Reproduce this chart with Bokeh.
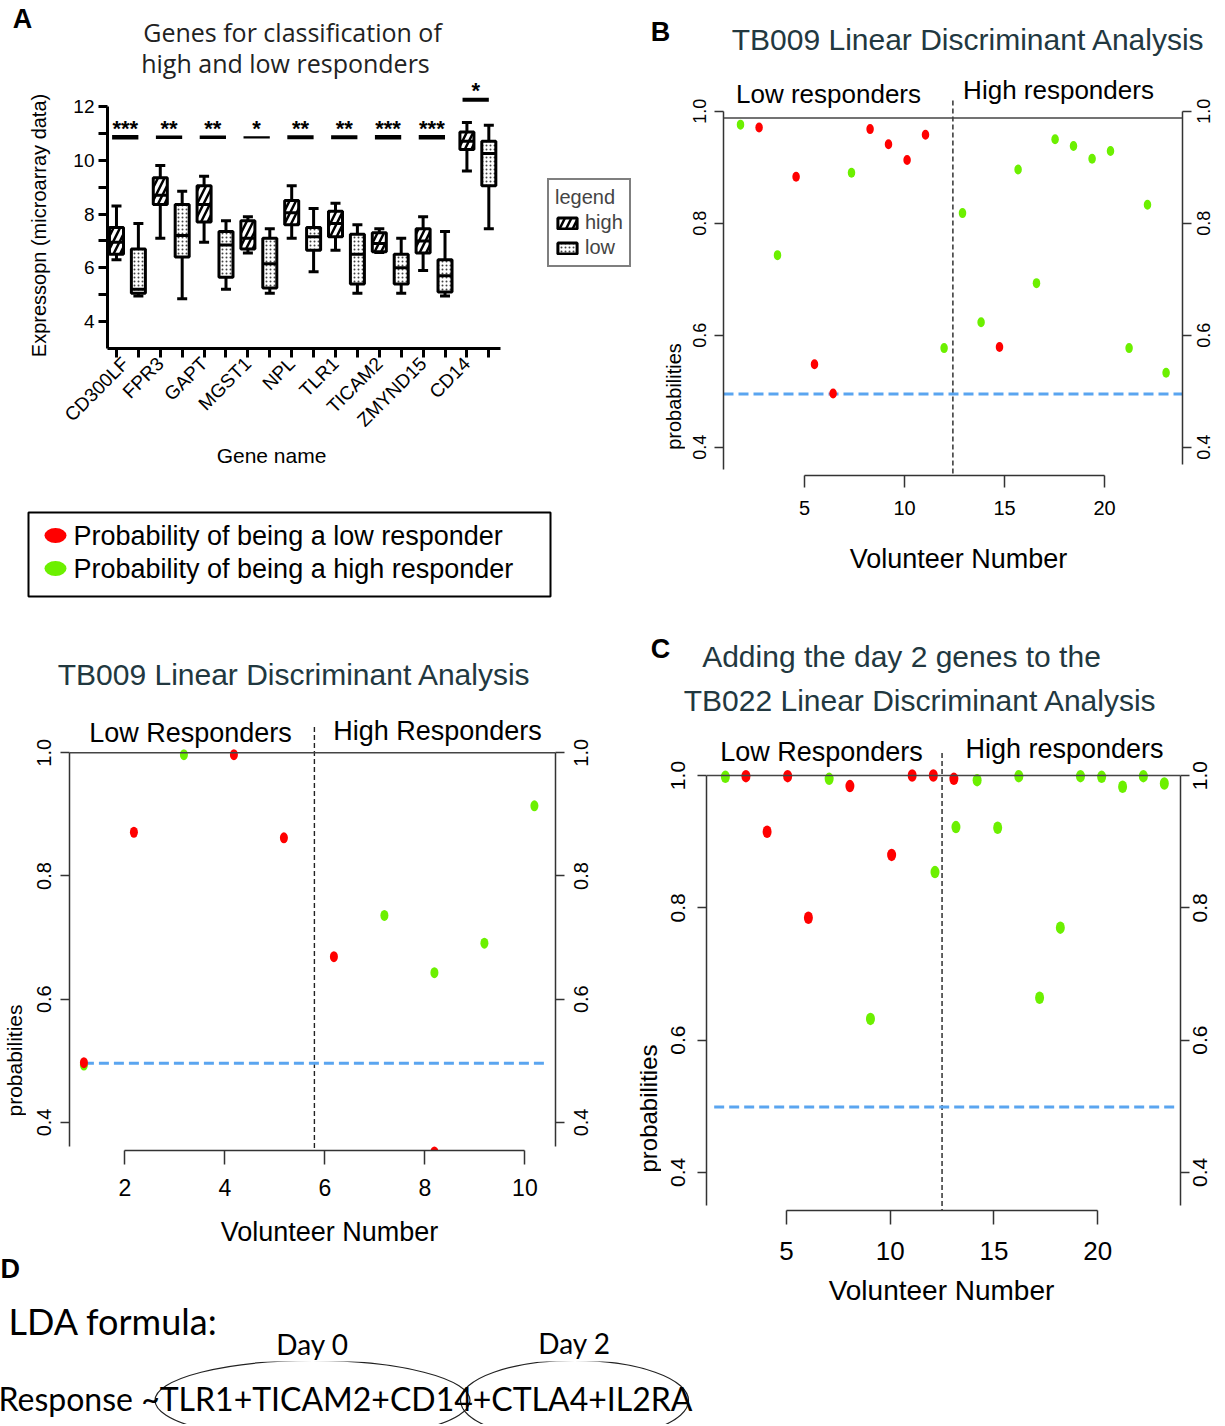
import math
from bokeh.plotting import figure
from bokeh.models import (Range1d, LinearAxis, FixedTicker, Label, Span,
                          ColumnDataSource, Legend, LegendItem, PrintfTickFormatter)
from bokeh.layouts import row, column
from bokeh.embed import file_html
from bokeh.resources import INLINE
from bokeh.core.properties import value

# ---------------- Panel A data (box plots) ----------------
genes = ["CD300LF", "FPR3", "GAPT", "MGST1", "NPL", "TLR1", "TICAM2", "ZMYND15", "CD14"]
stars = ["***", "**", "**", "*", "**", "**", "***", "***", "*"]
sig_level = [10.85, 10.85, 10.85, 10.85, 10.85, 10.85, 10.85, 10.85, 12.25]
high_min = [6.3, 7.1, 6.95, 6.55, 7.1, 6.65, 6.57, 5.9, 9.6]
high_q1 = [6.5, 8.35, 7.7, 6.7, 7.6, 7.15, 6.6, 6.55, 10.4]
high_med = [6.95, 8.7, 8.35, 7.1, 8.05, 7.65, 6.9, 7.0, 10.7]
high_q3 = [7.5, 9.35, 9.05, 7.75, 8.5, 8.1, 7.3, 7.45, 11.05]
high_max = [8.3, 9.8, 9.4, 7.9, 9.05, 8.4, 7.45, 7.9, 11.4]
low_min = [4.95, 4.85, 5.2, 5.05, 5.85, 5.05, 5.05, 4.95, 7.45]
low_q1 = [5.05, 6.4, 5.65, 5.25, 6.65, 5.4, 5.4, 5.1, 9.05]
low_med = [5.2, 7.2, 6.85, 6.15, 7.15, 6.5, 6.0, 5.7, 10.25]
low_q3 = [6.7, 8.35, 7.35, 7.1, 7.5, 7.25, 6.5, 6.3, 10.7]
low_max = [7.65, 8.85, 7.75, 7.45, 8.2, 7.6, 7.1, 7.35, 11.3]

# ---------------- Panel B data (TB009 LDA, 24 volunteers) ----------------
b_volunteer = [1.8, 2.73, 3.65, 4.58, 5.5, 6.43, 7.35, 8.28, 9.2, 10.13, 11.05, 11.98,
               12.9, 13.83, 14.75, 15.68, 16.6, 17.53, 18.45, 19.38, 20.3, 21.23, 22.15, 23.08]
b_probability = [0.976, 0.971, 0.743, 0.883, 0.548, 0.496, 0.890, 0.968, 0.941, 0.913, 0.958, 0.577,
                 0.818, 0.623, 0.579, 0.896, 0.693, 0.950, 0.938, 0.915, 0.929, 0.577, 0.833, 0.533]
b_group = ["high", "low", "high", "low", "low", "low", "high", "low", "low", "low", "low", "high",
           "high", "high", "low", "high", "high", "high", "high", "high", "high", "high", "high", "high"]

# ---------------- bottom-left data (TB009 LDA, 10 volunteers) ----------------
l_volunteer = [1.18, 1.18, 2.18, 3.18, 4.18, 5.18, 6.18, 7.19, 8.19, 8.19, 9.19, 10.19]
l_probability = [0.493, 0.497, 0.871, 0.997, 0.997, 0.862, 0.669, 0.736, 0.643, 0.352, 0.691, 0.914]
l_group = ["high", "low", "low", "high", "low", "low", "low", "high", "high", "low", "high", "high"]

# ---------------- Panel C data (TB022 LDA + day 2 genes) ----------------
c_volunteer = [2.06, 3.05, 4.07, 5.06, 6.06, 7.06, 8.06, 9.05, 10.07, 11.06, 12.08, 12.16,
               13.07, 13.17, 14.19, 15.18, 16.2, 17.2, 18.2, 19.17, 20.19, 21.2, 22.2, 23.21]
c_probability = [0.998, 0.999, 0.915, 0.999, 0.785, 0.995, 0.984, 0.632, 0.880, 1.0, 1.0, 0.854,
                 0.995, 0.922, 0.993, 0.921, 0.999, 0.664, 0.770, 0.999, 0.998, 0.983, 0.999, 0.988]
c_group = ["high", "low", "low", "low", "low", "high", "low", "high", "low", "low", "low", "high",
           "low", "high", "high", "high", "high", "high", "high", "high", "high", "high", "high", "high"]

prob_ticks = [0.4, 0.6, 0.8, 1.0]
legend_labels = ["Probability of being a low responder", "Probability of being a high responder"]
legend_groups = ["low", "high"]

# ---------------- Panel D data ----------------
day_labels = ["Day 0", "Day 2"]
day0_genes = ["TLR1", "TICAM2", "CD14"]
day2_genes = ["CTLA4", "IL2RA"]

# ---------------- styles ----------------
SANS = "Liberation Sans"
HUMAN = "Open Sans"
LATO = "Lato"
RED = "#ff0000"
GREEN = "#6cf000"
BLUE = "#5aa5f0"
AX = "#333333"
TITLE = "#22383f"
COLOR = {"low": RED, "high": GREEN}


def base_fig(w, h, bl, br, bt, bb, xr, yr, axes=True):
    kw = {} if axes else dict(x_axis_type=None, y_axis_type=None)
    p = figure(width=w, height=h, x_range=xr, y_range=yr, output_backend="svg",
               toolbar_location=None, min_border_left=bl, min_border_right=br,
               min_border_top=bt, min_border_bottom=bb, title=None, frame_align=False, **kw)
    p.outline_line_color = None
    p.background_fill_color = "white"
    p.border_fill_color = "white"
    if axes:
        p.xgrid.visible = False
        p.ygrid.visible = False
    return p


def tfig(x0, y0, w, h):
    """Text-only strip whose data coordinates are the page pixel coordinates."""
    return base_fig(w, h, 0, 0, 0, 0, Range1d(x0, x0 + w), Range1d(y0 + h, y0), axes=False)


def txt(p, x, y, text, size, font=SANS, color="black", style="normal", align="center",
        angle=0.0, baseline="middle"):
    p.text(x=[x], y=[y], text=[text], angle=angle, text_font=value(font), text_font_size=f"{size}px",
           text_color=color, text_font_style=style, text_align=align, text_baseline=baseline)


def put(p, fl, fb, x, y, text, size, font=SANS, color="black"):
    p.add_layout(Label(x=x - fl, y=fb - y, x_units="screen", y_units="screen", text=text,
                       text_font=font, text_font_size=f"{size}px", text_color=color,
                       text_align="center", text_baseline="middle"))


def style_axis(ax, width, color, tick_out, font, size, standoff):
    ax.axis_line_width = width
    ax.axis_line_color = color
    ax.major_tick_line_width = width
    ax.major_tick_line_color = color
    ax.major_tick_out = tick_out
    ax.major_tick_in = 0
    ax.minor_tick_out = 0
    ax.minor_tick_in = 0
    ax.major_label_text_font = font
    ax.major_label_text_font_size = f"{size}px"
    ax.major_label_text_color = "black"
    ax.major_label_standoff = standoff


# ======================= Panel A =======================
A_top = tfig(0, 0, 632, 79)
txt(A_top, 22, 18, "A", 27, style="bold")
txt(A_top, 292, 31, "Genes for classification of", 25, font=HUMAN, color="#222222")
txt(A_top, 285, 62, "high and low responders", 25, font=HUMAN, color="#222222")
A_left = tfig(0, 79, 60, 365)
txt(A_left, 38, 225, "Expressopn (microarray data)", 20, angle=math.pi / 2)
A_bot = tfig(0, 444, 632, 56)
txt(A_bot, 271, 455, "Gene name", 21)

pA = base_fig(572, 365, 47, 0, 0, 96, Range1d(0.59, 24.56), Range1d(3, 13))
pos_high = [2 * i + 1 for i in range(len(genes))]
pos_low = [2 * i + 2 for i in range(len(genes))]

xa = pA.xaxis[0]
xa.ticker = FixedTicker(ticks=sorted(pos_high + pos_low))
xa.bounds = (0.59, 18.53)
ov = {p: "" for p in pos_low}
ov.update({p: g for p, g in zip(pos_high, genes)})
xa.major_label_overrides = ov
xa.major_label_orientation = math.pi / 4
style_axis(xa, 3, "black", 9, SANS, 19, 3)

ya = pA.yaxis[0]
ya.ticker = FixedTicker(ticks=[4, 6, 8, 10, 12], minor_ticks=[5, 7, 9, 11])
ya.bounds = (3, 12)
style_axis(ya, 3, "black", 9, SANS, 19, 4)
ya.minor_tick_out = 9
ya.minor_tick_line_width = 3
ya.minor_tick_line_color = "black"

src_h = ColumnDataSource(dict(x=pos_high, lo=high_min, q1=high_q1, med=high_med, q3=high_q3, hi=high_max))
src_l = ColumnDataSource(dict(x=pos_low, lo=low_min, q1=low_q1, med=low_med, q3=low_q3, hi=low_max))
box_r = {}
for key, src, hatch in (("high", src_h, dict(hatch_pattern="right_diagonal_line", hatch_scale=13,
                                               hatch_weight=2.5, hatch_color="black")),
                        ("low", src_l, dict(hatch_pattern="dot", hatch_scale=4,
                                            hatch_weight=1.6, hatch_color="#444444"))):
    pA.segment(x0="x", y0="q3", x1="x", y1="hi", source=src, line_width=3, line_color="black")
    pA.segment(x0="x", y0="q1", x1="x", y1="lo", source=src, line_width=3, line_color="black")
    box_r[key] = pA.vbar(x="x", width=0.64, top="q3", bottom="q1", source=src, fill_color="white",
                         line_color="black", line_width=3, **hatch)
    pA.scatter(x="x", y="med", source=src, marker="dash", size=14, line_width=3, line_color="black")
    pA.scatter(x="x", y="hi", source=src, marker="dash", size=10, line_width=3, line_color="black")
    pA.scatter(x="x", y="lo", source=src, marker="dash", size=10, line_width=3, line_color="black")

sig_mid = [(h + l) / 2 - 0.1 for h, l in zip(pos_high, pos_low)]
sig_w = [4.5, 3.5, 3.5, 2.2, 4, 4, 4.5, 4.5, 4]
pA.segment(x0=[m - 0.6 for m in sig_mid], y0=sig_level, x1=[m + 0.6 for m in sig_mid], y1=sig_level,
           line_width=sig_w, line_color="black")
pA.text(x=sig_mid, y=[s + 0.33 for s in sig_level], text=stars, text_font=value(SANS),
        text_font_size="22px", text_font_style="bold", text_align="center",
        text_baseline="alphabetic", text_color="black")

legA = Legend(items=[LegendItem(label="high", renderers=[box_r["high"]]),
                     LegendItem(label="low", renderers=[box_r["low"]])],
              title="legend", location=(440, 81))
legA.border_line_color = "black"
legA.border_line_width = 2
legA.title_text_font = SANS
legA.title_text_font_size = "20px"
legA.title_text_font_style = "normal"
legA.label_text_font = SANS
legA.label_text_font_size = "20px"
legA.padding = 6
legA.spacing = 2
legA.margin = 0
legA.glyph_width = 24
legA.glyph_height = 14
legA.label_height = 18
legA.label_standoff = 6
legA.title_standoff = 2
pA.add_layout(legA)

blockA = column(A_top, row(A_left, pA), A_bot)

# ======================= legend box =======================
pLeg = base_fig(632, 120, 28, 82, 12, 24, Range1d(0, 522), Range1d(-0.848, 1.697), axes=False)
pLeg.outline_line_color = "black"
pLeg.outline_line_width = 2
leg_row = list(range(len(legend_labels)))[::-1]
pLeg.ellipse(x=[27] * len(legend_labels), y=leg_row, width=22, height=15, width_units="screen",
             height_units="screen", fill_color=[COLOR[g] for g in legend_groups], line_color=None)
pLeg.text(x=[45] * len(legend_labels), y=leg_row, text=legend_labels, text_font=value(SANS),
          text_font_size="27px", text_baseline="middle", text_align="left", text_color="black")


# ======================= LDA panels =======================
def lda(w, h, bl, br, bt, bb, xlim, ylim, vol, prob, grp, dot, cut, thr, thr_span, div_x, div_top,
        xticks, xbounds, yb_l, yb_r, ysize, xsize, xstd, ystd_l, ystd_r, xtick_out, lab_shift):
    p = base_fig(w, h, bl, br, bt, bb, Range1d(*xlim), Range1d(*ylim))
    # left axis: ticks, line and labels (reading upwards, centred on the ticks)
    yl = p.yaxis[0]
    yl.ticker = FixedTicker(ticks=prob_ticks)
    yl.formatter = PrintfTickFormatter(format="%.1f")
    yl.bounds = yb_l
    yl.major_label_orientation = "parallel"
    style_axis(yl, 1.5, AX, 9, SANS, ysize, ystd_l)
    # right axis: line and ticks
    yr = LinearAxis(ticker=FixedTicker(ticks=prob_ticks), bounds=yb_r)
    style_axis(yr, 1.5, AX, 9, SANS, 1, 0)
    yr.major_label_text_alpha = 0
    p.add_layout(yr, "right")
    # right axis labels, read upwards like the left ones
    p.extra_y_ranges = {"lab": Range1d(ylim[0] + lab_shift, ylim[1] + lab_shift)}
    ylab = LinearAxis(y_range_name="lab", ticker=FixedTicker(ticks=prob_ticks),
                      formatter=PrintfTickFormatter(format="%.1f"))
    style_axis(ylab, 1.5, None, 0, SANS, ysize, ystd_r)
    ylab.major_tick_line_color = None
    ylab.major_label_orientation = math.pi / 2
    p.add_layout(ylab, "right")
    xa = p.xaxis[0]
    xa.ticker = FixedTicker(ticks=xticks)
    xa.bounds = xbounds
    style_axis(xa, 1.5, AX, xtick_out, SANS, xsize, xstd)
    p.add_layout(Span(location=cut, dimension="width", line_color="#444444", line_width=1.5))
    p.segment(x0=[div_x], y0=[div_top], x1=[div_x], y1=[ylim[0]], line_dash="5 3",
              line_color="#222222", line_width=1.4)
    p.segment(x0=[thr_span[0]], y0=[thr], x1=[thr_span[1]], y1=[thr], line_color=BLUE,
              line_width=3, line_dash="10 5")
    src = ColumnDataSource(dict(x=vol, y=prob, c=[COLOR[g] for g in grp]))
    p.ellipse(x="x", y="y", width=dot[0], height=dot[1], width_units="screen", height_units="screen",
              fill_color="c", line_color=None, source=src)
    return p


# ---- Panel B ----
B_top = tfig(632, 0, 593, 72)
txt(B_top, 660, 31, "B", 27, style="bold")
txt(B_top, 968, 39, "TB009 Linear Discriminant Analysis", 30, color=TITLE)
B_left = tfig(632, 72, 53, 458)
txt(B_left, 673, 396, "probabilities", 20, angle=math.pi / 2)
B_bot = tfig(632, 530, 593, 95)
txt(B_bot, 958, 558, "Volunteer Number", 27)
pB = lda(540, 458, 38, 43, 0, 55, (0.95, 23.9), (0.3495, 1.0691), b_volunteer, b_probability, b_group,
         (7.5, 10), 0.988, 0.495, (0.95, 23.9), 12.42, 1.019, [5, 10, 15, 20], (5, 20),
         (0.361, 1.0), (0.37, 1.0), 18, 20, 13, 8, 12, 12, 0.0223)
put(pB, 723, 475, 828, 93, "Low responders", 26)
put(pB, 723, 475, 1058, 89, "High responders", 26)
blockB = column(B_top, row(B_left, pB), B_bot)

# ---- bottom-left panel ----
L_top = tfig(0, 620, 632, 92)
txt(L_top, 294, 674, "TB009 Linear Discriminant Analysis", 30, color=TITLE)
L_left = tfig(0, 712, 26, 498)
txt(L_left, 14, 1060, "probabilities", 21, angle=math.pi / 2)
L_bot = tfig(0, 1210, 632, 43)
txt(L_bot, 329, 1231, "Volunteer Number", 27)
pL = lda(606, 498, 43, 77, 0, 60, (0.892, 10.612), (0.3544, 1.0654), l_volunteer, l_probability, l_group,
         (8, 11), 1.0, 0.496, (1.18, 10.42), 5.79, 1.042, [2, 4, 6, 8, 10], (2, 10),
         (0.361, 1.0), (0.361, 1.0), 20, 23, 14, 9, 17, 14, 0.0226)
put(pL, 69, 1150, 190, 732, "Low Responders", 27)
put(pL, 69, 1150, 437, 730, "High Responders", 27)
blockL = column(L_top, row(L_left, pL), L_bot)

# ---- Panel C ----
C_top = tfig(632, 625, 593, 103)
txt(C_top, 660, 648, "C", 27, style="bold")
txt(C_top, 901, 656, "Adding the day 2 genes to the", 30, color=TITLE)
txt(C_top, 920, 700, "TB022 Linear Discriminant Analysis", 30, color=TITLE)
C_left = tfig(632, 728, 29, 546)
txt(C_left, 648, 1108, "probabilities", 24, angle=math.pi / 2)
C_bot = tfig(632, 1274, 593, 87)
txt(C_bot, 941, 1290, "Volunteer Number", 28)
pC = lda(564, 546, 45, 45, 0, 64, (1.15, 23.99), (0.3424, 1.0711), c_volunteer, c_probability, c_group,
         (9, 12.5), 1.0, 0.499, (1.52, 23.78), 12.5, 1.034, [5, 10, 15, 20], (5, 20),
         (0.35, 1.0), (0.35, 1.0), 21, 26, 17, 12, 11, 14, 0.0221)
put(pC, 706, 1210, 821, 751, "Low Responders", 27)
put(pC, 706, 1210, 1064, 748, "High responders", 27)
blockC = column(C_top, row(C_left, pC), C_bot)

# ======================= Panel D =======================
D_up = tfig(0, 1253, 632, 108)
txt(D_up, 0, 1268, "D", 27, style="bold", align="left")
txt(D_up, 8, 1320, "LDA formula:", 36, font=LATO, align="left")
group_cx = [312, 574]
group_w = [315, 228]
D_up.text(x=group_cx, y=[1343, 1342], text=day_labels, text_font=value(LATO), text_font_size="28px",
          text_align="center", text_baseline="middle", text_color="black")

D_low = tfig(0, 1361, 1225, 63)
formula = "Response ~" + "+".join(day0_genes) + "+" + "+".join(day2_genes)
D_low.ellipse(x=group_cx, y=[1400, 1400], width=group_w, height=[80, 80], width_units="screen",
              height_units="screen", fill_color=None, line_color="#222222", line_width=1.2)
txt(D_low, -2, 1398, formula, 32, font=LATO, align="left")

top = row(column(blockA, pLeg, blockL, D_up), column(blockB, blockC))
layout = column(top, D_low)
open("out.html", "w").write(file_html(layout, INLINE))
